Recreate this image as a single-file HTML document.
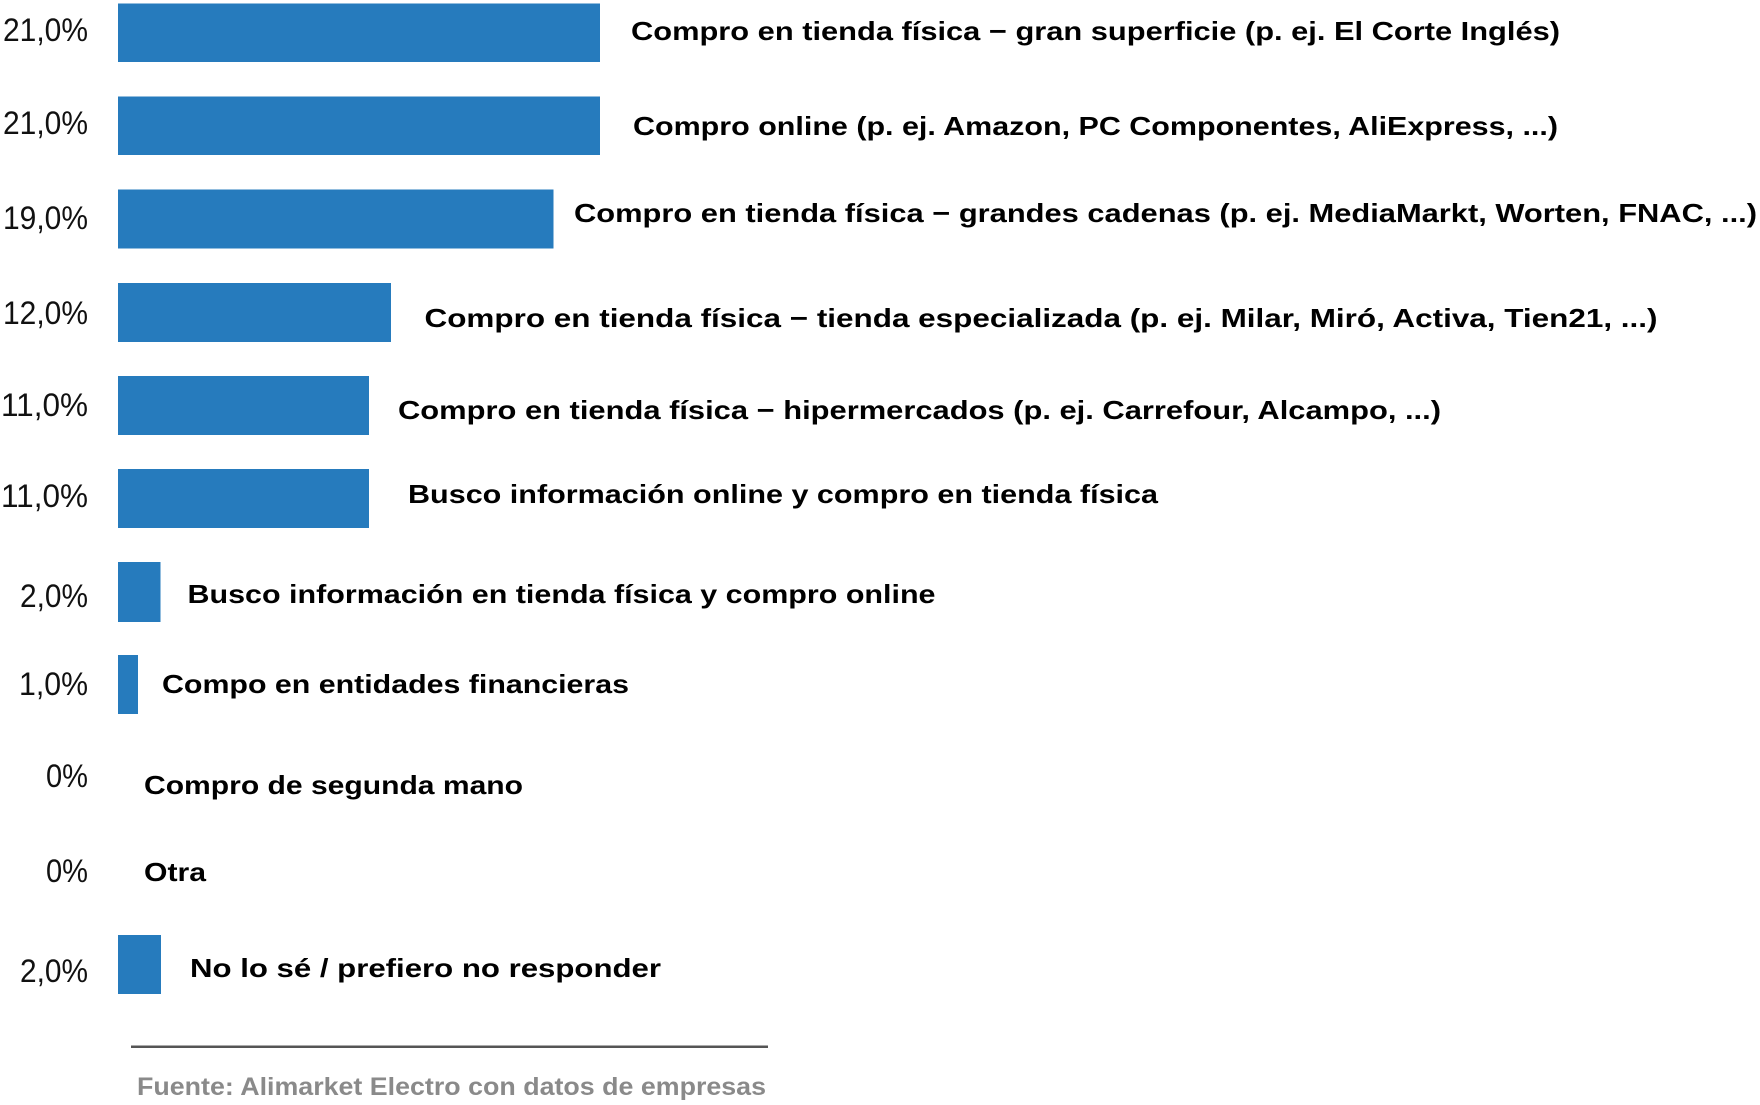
<!DOCTYPE html>
<html>
<head>
<meta charset="utf-8">
<style>
html,body{margin:0;padding:0;background:#fff;}
svg{display:block;}
.v{font-family:"Liberation Sans",sans-serif;font-size:32.5px;fill:#111;text-anchor:end;}
.c{font-family:"Liberation Sans",sans-serif;font-weight:bold;font-size:26px;fill:#000;}
.b{fill:#267bbd;}
</style>
</head>
<body>
<svg width="1760" height="1105" viewBox="0 0 1760 1105" xmlns="http://www.w3.org/2000/svg">
<rect width="1760" height="1105" fill="#fff"/>
<!-- bars -->
<rect class="b" x="118" y="3.5" width="482" height="58.5"/>
<rect class="b" x="118" y="96.5" width="482" height="58.5"/>
<rect class="b" x="118" y="189.5" width="435.5" height="59"/>
<rect class="b" x="118" y="283" width="273" height="59"/>
<rect class="b" x="118" y="376" width="251" height="59"/>
<rect class="b" x="118" y="469" width="251" height="59"/>
<rect class="b" x="118" y="562" width="42.5" height="60"/>
<rect class="b" x="118" y="655" width="20" height="59"/>
<rect class="b" x="118" y="935" width="43" height="59"/>

<!-- value labels -->
<text class="v" x="88" y="41" textLength="85" lengthAdjust="spacingAndGlyphs">21,0%</text>
<text class="v" x="88" y="134" textLength="85" lengthAdjust="spacingAndGlyphs">21,0%</text>
<text class="v" x="88" y="229" textLength="85" lengthAdjust="spacingAndGlyphs">19,0%</text>
<text class="v" x="88" y="324" textLength="85" lengthAdjust="spacingAndGlyphs">12,0%</text>
<text class="v" x="88" y="416" textLength="87" lengthAdjust="spacingAndGlyphs">11,0%</text>
<text class="v" x="88" y="507" textLength="87" lengthAdjust="spacingAndGlyphs">11,0%</text>
<text class="v" x="88" y="607" textLength="68" lengthAdjust="spacingAndGlyphs">2,0%</text>
<text class="v" x="88" y="695" textLength="69" lengthAdjust="spacingAndGlyphs">1,0%</text>
<text class="v" x="88" y="787" textLength="42" lengthAdjust="spacingAndGlyphs">0%</text>
<text class="v" x="88" y="882" textLength="42" lengthAdjust="spacingAndGlyphs">0%</text>
<text class="v" x="88" y="982" textLength="68" lengthAdjust="spacingAndGlyphs">2,0%</text>

<!-- category labels -->
<text class="c" x="631" y="40" textLength="929" lengthAdjust="spacingAndGlyphs">Compro en tienda física − gran superficie (p. ej. El Corte Inglés)</text>
<text class="c" x="633" y="135" textLength="925" lengthAdjust="spacingAndGlyphs">Compro online (p. ej. Amazon, PC Componentes, AliExpress, ...)</text>
<text class="c" x="574" y="222" textLength="1183" lengthAdjust="spacingAndGlyphs">Compro en tienda física − grandes cadenas (p. ej. MediaMarkt, Worten, FNAC, ...)</text>
<text class="c" x="424.5" y="327" textLength="1233" lengthAdjust="spacingAndGlyphs">Compro en tienda física − tienda especializada (p. ej. Milar, Miró, Activa, Tien21, ...)</text>
<text class="c" x="398" y="419" textLength="1043" lengthAdjust="spacingAndGlyphs">Compro en tienda física − hipermercados (p. ej. Carrefour, Alcampo, ...)</text>
<text class="c" x="408" y="503" textLength="750" lengthAdjust="spacingAndGlyphs">Busco información online y compro en tienda física</text>
<text class="c" x="187.5" y="603" textLength="748" lengthAdjust="spacingAndGlyphs">Busco información en tienda física y compro online</text>
<text class="c" x="162" y="693" textLength="467" lengthAdjust="spacingAndGlyphs">Compo en entidades financieras</text>
<text class="c" x="144" y="794" textLength="379" lengthAdjust="spacingAndGlyphs">Compro de segunda mano</text>
<text class="c" x="144" y="881" textLength="62" lengthAdjust="spacingAndGlyphs">Otra</text>
<text class="c" x="190" y="977" textLength="471" lengthAdjust="spacingAndGlyphs">No lo sé / prefiero no responder</text>

<!-- source -->
<rect x="131" y="1045.5" width="637" height="2.5" fill="#555"/>
<text x="137" y="1095" font-family="Liberation Sans, sans-serif" font-weight="bold" font-size="25" fill="#8a8a8a" textLength="629" lengthAdjust="spacingAndGlyphs">Fuente: Alimarket Electro con datos de empresas</text>
</svg>
</body>
</html>
